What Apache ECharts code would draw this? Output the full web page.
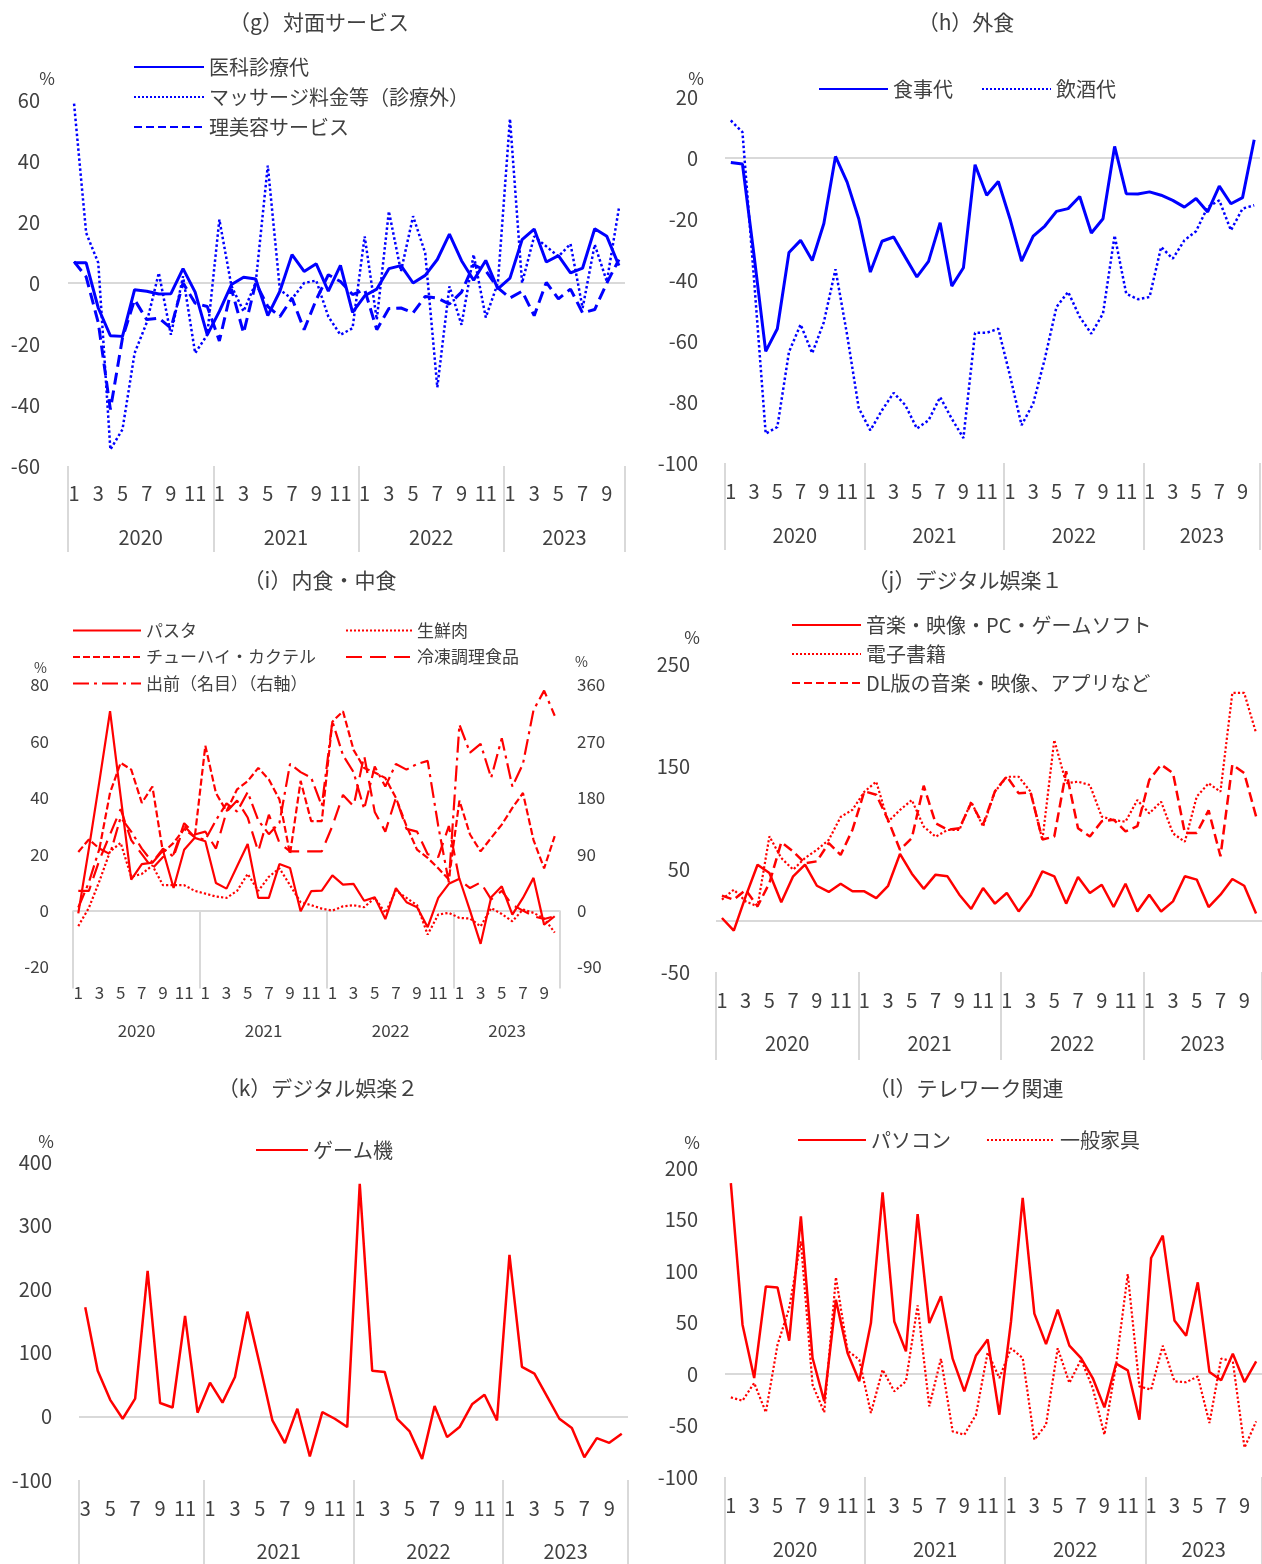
<!DOCTYPE html>
<html>
<head>
<meta charset="utf-8">
<script src="https://cdn.jsdelivr.net/npm/echarts@6/dist/echarts.min.js"></script>
<style>
  html, body { margin: 0; padding: 0; background: #fff; }
  #chart { width: 1262px; height: 1564px; }
</style>
</head>
<body>
<div id="chart"></div>
<script>
// ---- categories / tick labels ----
const monthsFromJan = [
  '1','2','3','4','5','6','7','8','9','10','11','12',
  '1','2','3','4','5','6','7','8','9','10','11','12',
  '1','2','3','4','5','6','7','8','9','10','11','12',
  '1','2','3','4','5','6','7','8','9','10'
];
const monthsFromMar = [
  '3','4','5','6','7','8','9','10','11','12',
  '1','2','3','4','5','6','7','8','9','10','11','12',
  '1','2','3','4','5','6','7','8','9','10','11','12',
  '1','2','3','4','5','6','7','8','9','10'
];
const yearsAll = ['2020', '2021', '2022', '2023'];
const yearsNo2020 = ['', '2021', '2022', '2023'];
const spansFromJan = [12, 12, 12, 10];
const spansFromMar = [10, 12, 12, 10];

// ---- (g) 対面サービス ----
const medical = [6.6, 6.6, -8.2, -17.3, -17.5, -2.2, -2.7, -3.6, -3.5, 4.7, -3, -17, -9.3, -0.5, 1.9, 1.3, -10.7, -2.7, 9.3, 3.8, 6.3, -2.7, 5.8, -9.6, -4.2, -2, 4.7, 5.7, 0, 2.5, 7.7, 16, 7.3, 0.9, 7.4, -1.9, 1.6, 14.2, 17.7, 6.9, 9, 3.3, 4.9, 17.8, 15.3, 5.7];
const massage = [58.8, 16.4, 6.6, -54.6, -48, -23, -13, 3.3, -17, 2.2, -23, -17, 20.8, -1, -9.3, 0, 38.5, -2.2, -5.2, 0, 0.8, -11, -17, -14.8, 15.3, -12, 23.5, 3.8, 21.9, 9.8, -34.2, -1.1, -13.7, 9.3, -11.3, 0, 53.8, 0, 15.3, 12, 8.7, 12.8, -8.2, 12.6, 0.5, 24.6];
const barber = [7, 2, -13, -41.5, -18, -5.5, -12, -11.5, -14.8, 0, -6.6, -7.7, -19, -2, -16.4, 0, -7.7, -11, -5, -15.3, -5.5, 2.7, 0.5, -3.8, -2.2, -15.3, -8.4, -8.2, -9.8, -4.4, -4.9, -6.9, -3, 6, 4, -1.6, -4.9, -2.7, -10.7, 0.2, -5.2, -2, -9.8, -8.7, 0, 7.7];

// ---- (h) 外食 ----
const meals = [-1.5, -2, -32, -63.4, -56, -31, -27, -33.6, -21.5, 0.5, -7.9, -19.9, -37.4, -27.3, -25.9, -32.5, -39, -33.9, -21.2, -42, -36, -2.2, -12.2, -7.7, -19.9, -33.8, -25.6, -22.3, -17.5, -16.6, -12.6, -24.6, -19.9, 3.8, -11.7, -11.8, -11.1, -12.2, -13.9, -16.1, -13.3, -17.7, -9.2, -15, -13, 6];
const drinking = [12.3, 8.5, -40, -90.4, -88.2, -63.6, -54.6, -64, -53.8, -36.5, -58, -82, -89.3, -82.7, -77, -81, -88.7, -86, -78.4, -85.5, -91.8, -57.3, -57.3, -56, -71.3, -87.6, -80.5, -65.8, -48.9, -43.9, -52.1, -57.6, -51, -25.4, -44.5, -46.3, -45.6, -29.2, -33, -27, -24, -16.1, -13.9, -23.7, -16.6, -15.5];

// ---- (i) 内食・中食 ----
const pasta = [-1, 22, 46, 70.7, 40.5, 11, 16.5, 17, 21.3, 8, 21.6, 25.8, 24.6, 9.8, 7.8, 15.7, 23.6, 4.5, 4.5, 16.5, 15.1, -0.2, 6.9, 7.1, 12.5, 9.2, 9.5, 3.5, 4.7, -3, 8, 3, 1.2, -5.9, 4.5, 9.5, 11.3, 0, -11.8, 4.7, 8.6, -1.4, 4.5, 11.6, -5, -2];
const freshMeat = [-5.5, 1, 10.5, 21, 24, 12, 13, 16, 9, 9, 9, 7, 6, 5, 4.5, 7, 13, 7, 12, 15, 9, 3, 1.9, 0.7, 0, 1.5, 1.9, 1.2, 4.5, -0.8, 7.1, 4.5, 1.9, -8.5, -1.4, -0.8, -2.6, -2.8, -5.6, 0.9, -1.2, -3.8, 0.4, -0.8, -2.8, -7.8];
const chuhai = [20.8, 25.2, 22, 41.8, 52.4, 50, 38.2, 44, 20.6, 24, 29, 26, 58.5, 41.7, 35.2, 43, 45.9, 50.6, 46.5, 39.4, 20, 46, 31.7, 31.7, 67, 70.7, 57, 50.6, 49, 47, 40, 30, 21.6, 18.7, 15, 11, 39, 27, 21, 25.8, 30.5, 36.4, 41.7, 25, 15, 26.4];
const frozen = [7, 7, 18, 27, 36, 25, 20, 15, 19, 20, 31, 27, 28, 22, 35, 39, 33, 21, 34, 24, 21, 21, 21, 21, 30, 41, 37, 55, 35, 28, 40, 29, 28, 20, 19, 30, 11, 8, 10, 4, 7, 2, 0, -2, -3, -2];
const delivery = [5, 45, 99, 90, 149, 126, 99, 77, 99, 86, 135, 117, 113, 144, 171, 158, 189, 144, 122, 140, 234, 221, 212, 167, 302, 248, 221, 162, 230, 198, 234, 225, 234, 239, 135, 45, 297, 252, 266, 212, 275, 198, 234, 320, 351, 311];

// ---- (j) デジタル娯楽１ ----
const softMedia = [2.6, -9.7, 23.7, 54.5, 46.4, 17.9, 43.2, 54.5, 34, 28, 36, 28.6, 28.6, 22, 34, 65, 45.8, 31, 44.8, 43.2, 25.3, 11.4, 31.8, 16.6, 27, 9, 24.4, 48, 43.2, 16.6, 42.5, 27, 35, 13.3, 36, 9, 25.3, 9, 18.8, 43.2, 40, 13.3, 25.3, 40.6, 34, 7];
const ebooks = [20.5, 30.2, 18.8, 13.9, 82.1, 61, 49.7, 61, 69, 78.6, 101, 108, 125.6, 135.4, 96.4, 107.8, 117.5, 91.6, 81.8, 88.3, 88.3, 115.9, 91.6, 125.6, 140.2, 140.2, 125.6, 78.6, 176, 133.8, 135.4, 132.1, 101.3, 98, 96.4, 117.5, 104.5, 115.9, 85, 76.9, 120.8, 133.8, 125.6, 221.8, 221.8, 182.8];
const downloads = [24.4, 20.5, 30, 14, 36.7, 76.3, 67.5, 56, 57.8, 75.6, 64, 88.6, 126, 122.7, 98, 69, 80.5, 131.5, 95, 88.6, 90, 114.6, 93.5, 126, 140.6, 124, 125, 79, 82, 145.5, 90, 82, 96.8, 98.4, 87, 92, 137, 152, 143.8, 85.4, 85.4, 107.5, 62.7, 152, 143.8, 101.6];

// ---- (k) デジタル娯楽２ (from 2020-03) ----
const consoles = [171.6, 71.6, 26, -3.7, 28, 229, 21, 14, 158, 5.8, 53, 21.6, 62, 164.7, 80.5, -6.3, -42, 12, -63, 6.8, -3.7, -16.8, 365.8, 71.6, 70, -3.7, -23.7, -66.8, 16.3, -32.6, -16.8, 19, 34, -6.3, 254, 78, 67.4, 32, -3.7, -18.4, -64.2, -34.2, -41.6, -27.4];

// ---- (l) テレワーク関連 ----
const pcs = [185.4, 47.9, -3.9, 85, 84, 32.4, 153, 15.5, -26.5, 72, 20.4, -7.1, 49.5, 176.4, 51, 22, 155.3, 49.5, 75.4, 14.9, -16.8, 18, 33.5, -39.5, 51, 171, 58.6, 29, 62.5, 27.5, 15.5, -3.9, -32.4, 10, 3.6, -44.3, 112.6, 134.3, 52, 37.2, 89, 1.9, -6.1, 19.7, -7.8, 12.3];
const furniture = [-22.7, -25.9, -8.7, -37.2, 28.5, 64, 128.8, -10.4, -37.2, 93.9, 22.7, 13.9, -37.9, 4.2, -16.8, -7.1, 66.7, -31.4, 14.9, -55.7, -58.9, -39.5, 21, -3.9, 25, 15.5, -63.8, -49.2, 25, -8.7, 14, -13.6, -58.9, 9, 97, -12, -15.2, 27.5, -7.1, -8, -2.3, -47.6, 14.9, 12.3, -71.5, -46];

const FONT = '"Noto Sans CJK JP", "Noto Sans", sans-serif';
const TXT = '#404040';
const LIGHT = '#d9d9d9';
const BLUE = '#0000ff';
const RED = '#ff0000';

const option = {
  animation: false,
  backgroundColor: '#ffffff',
  textStyle: { fontFamily: FONT },
  title: [], legend: [], grid: [], xAxis: [], yAxis: [], series: []
};

function addPanel(p) {
  const g = option.grid.length;
  const [left, top, width, height] = p.box;
  option.grid.push({ left, top, width, height });

  option.title.push({
    text: p.title, left: p.titleAt[0], top: p.titleAt[1], textAlign: 'center', padding: 0,
    textStyle: { fontSize: 21, fontWeight: 'normal', color: TXT, fontFamily: FONT }
  });

  // legend: line only, the symbol in the middle is hidden
  p.legends.forEach(l => option.legend.push({
    data: l.names, left: l.at[0], top: l.at[1], orient: l.orient || 'vertical',
    itemWidth: l.itemWidth, itemHeight: 12, itemGap: l.gap, padding: 0, selectedMode: false,
    itemStyle: { opacity: 0 },
    textStyle: { fontSize: p.fs, color: TXT, fontFamily: FONT }
  }));

  const monthAxis = option.xAxis.length;
  option.xAxis.push({
    gridIndex: g, type: 'category', data: p.months, boundaryGap: true,
    axisLine: { show: false }, axisTick: { show: false }, splitLine: { show: false },
    axisLabel: {
      interval: (i, v) => Number(v) % 2 === 1,
      margin: p.gaps[0], fontSize: p.fs, color: TXT, fontFamily: FONT
    }
  });

  // year band below the months: separators at year edges, labels in the middle
  const edges = [0], centers = [], yearAt = {};
  p.spans.forEach((c, k) => {
    const s = edges[edges.length - 1];
    centers.push(s + c / 2);
    yearAt[s + c / 2] = p.years[k];
    edges.push(s + c);
  });
  option.xAxis.push({
    gridIndex: g, type: 'value', position: 'bottom', min: 0, max: edges[edges.length - 1],
    axisLine: { show: false }, splitLine: { show: false },
    axisTick: { show: true, customValues: edges, length: p.tickLen, lineStyle: { color: LIGHT, width: 2 } },
    axisLabel: {
      customValues: centers, formatter: v => yearAt[v] || '',
      margin: p.gaps[1], fontSize: p.fs, color: TXT, fontFamily: FONT
    }
  });

  const yIdx = p.yAxes.map(a => {
    const right = a.pos === 'right';
    option.yAxis.push({
      gridIndex: g, type: 'value', position: a.pos || 'left',
      min: a.min, max: a.max, interval: a.step,
      axisLine: { show: false }, axisTick: { show: false }, splitLine: { show: false },
      axisLabel: { customValues: a.labels, margin: a.margin, fontSize: p.fs, color: TXT, fontFamily: FONT },
      name: '%', nameLocation: 'end', nameGap: a.nameGap,
      nameTextStyle: {
        fontSize: p.fs - 3, color: TXT, fontFamily: FONT,
        align: right ? 'left' : 'right',
        padding: right ? [0, 0, 0, a.namePad] : [0, a.namePad, 0, 0]
      }
    });
    return option.yAxis.length - 1;
  });

  p.series.forEach((s, k) => {
    const item = {
      name: s.name, type: 'line', xAxisIndex: monthAxis, yAxisIndex: yIdx[s.axis || 0],
      data: s.data, symbol: 'none', z: 2,
      lineStyle: { color: s.color, width: s.width, type: s.dash },
      itemStyle: { color: s.color }
    };
    if (k === 0) {
      item.markLine = {
        silent: true, symbol: 'none', z: 1, label: { show: false },
        lineStyle: { color: LIGHT, width: 2, type: 'solid' },
        data: [{ yAxis: 0 }]
      };
    }
    option.series.push(item);
  });
}

const LONG_DASH = [16, 8];
const DASH_DOT = [16, 5, 3, 5];
const SHORT_DASH = [7, 3];

addPanel({
  title: '（g）対面サービス', titleAt: [319, 12], fs: 20,
  box: [68, 100, 557, 366], months: monthsFromJan, spans: spansFromJan, years: yearsAll,
  gaps: [17, 61], tickLen: 86,
  yAxes: [{ min: -60, max: 60, step: 20, margin: 28, nameGap: 13, namePad: 13 }],
  legends: [{ names: ['医科診療代', 'マッサージ料金等（診療外）', '理美容サービス'], at: [133, 57], itemWidth: 70, gap: 10 }],
  series: [
    { name: '医科診療代', data: medical, color: BLUE, width: 3, dash: 'solid' },
    { name: 'マッサージ料金等（診療外）', data: massage, color: BLUE, width: 2.5, dash: 'dotted' },
    { name: '理美容サービス', data: barber, color: BLUE, width: 3, dash: 'dashed' }
  ]
});

addPanel({
  title: '（h）外食', titleAt: [966, 12], fs: 20,
  box: [725, 97, 535, 366], months: monthsFromJan, spans: spansFromJan, years: yearsAll,
  gaps: [18, 62], tickLen: 87,
  yAxes: [{ min: -100, max: 20, step: 20, margin: 27, nameGap: 10, namePad: 21 }],
  legends: [{ names: ['食事代', '飲酒代'], at: [818, 79], orient: 'horizontal', itemWidth: 69, gap: 28 }],
  series: [
    { name: '食事代', data: meals, color: BLUE, width: 3, dash: 'solid' },
    { name: '飲酒代', data: drinking, color: BLUE, width: 2.5, dash: 'dotted' }
  ]
});

addPanel({
  title: '（i）内食・中食', titleAt: [320, 570], fs: 17,
  box: [73, 685, 487, 282], months: monthsFromJan, spans: spansFromJan, years: yearsAll,
  gaps: [17, 55], tickLen: 78,
  yAxes: [
    { min: -20, max: 80, step: 20, margin: 24, nameGap: 10, namePad: 26 },
    { pos: 'right', min: -90, max: 360, step: 90, margin: 17, nameGap: 16, namePad: 15 }
  ],
  legends: [
    { names: ['パスタ', 'チューハイ・カクテル', '出前（名目）（右軸）'], at: [72, 622], itemWidth: 68, gap: 9.5 },
    { names: ['生鮮肉', '冷凍調理食品'], at: [345, 622], itemWidth: 66, gap: 9.5 }
  ],
  series: [
    { name: 'パスタ', data: pasta, color: RED, width: 2.2, dash: 'solid' },
    { name: '生鮮肉', data: freshMeat, color: RED, width: 2.2, dash: 'dotted' },
    { name: 'チューハイ・カクテル', data: chuhai, color: RED, width: 2.2, dash: SHORT_DASH },
    { name: '冷凍調理食品', data: frozen, color: RED, width: 2.2, dash: LONG_DASH },
    { name: '出前（名目）（右軸）', data: delivery, color: RED, width: 2.2, dash: DASH_DOT, axis: 1 }
  ]
});

addPanel({
  title: '（j）デジタル娯楽１', titleAt: [965, 570], fs: 20,
  box: [716, 664, 555, 308], months: monthsFromJan, spans: spansFromJan, years: yearsAll,
  gaps: [18, 61], tickLen: 88,
  yAxes: [{ min: -50, max: 250, labels: [-50, 50, 150, 250], margin: 26, nameGap: 18, namePad: 16 }],
  legends: [{ names: ['音楽・映像・PC・ゲームソフト', '電子書籍', 'DL版の音楽・映像、アプリなど'], at: [791, 615], itemWidth: 69, gap: 9 }],
  series: [
    { name: '音楽・映像・PC・ゲームソフト', data: softMedia, color: RED, width: 2.5, dash: 'solid' },
    { name: '電子書籍', data: ebooks, color: RED, width: 2.2, dash: 'dotted' },
    { name: 'DL版の音楽・映像、アプリなど', data: downloads, color: RED, width: 2.5, dash: 'dashed' }
  ]
});

addPanel({
  title: '（k）デジタル娯楽２', titleAt: [318, 1078], fs: 20,
  box: [79, 1162, 549, 318], months: monthsFromMar, spans: spansFromMar, years: yearsNo2020,
  gaps: [18, 61], tickLen: 84,
  yAxes: [{ min: -100, max: 400, step: 100, margin: 27, nameGap: 12, namePad: 25 }],
  legends: [{ names: ['ゲーム機'], at: [255, 1140], itemWidth: 52, gap: 10 }],
  series: [
    { name: 'ゲーム機', data: consoles, color: RED, width: 2.5, dash: 'solid' }
  ]
});

addPanel({
  title: '（l）テレワーク関連', titleAt: [966, 1078], fs: 20,
  box: [725, 1168, 541, 309], months: monthsFromJan, spans: spansFromJan, years: yearsAll,
  gaps: [18, 62], tickLen: 87,
  yAxes: [{ min: -100, max: 200, step: 50, margin: 27, nameGap: 17, namePad: 25 }],
  legends: [{ names: ['パソコン', '一般家具'], at: [797, 1130], orient: 'horizontal', itemWidth: 68, gap: 35 }],
  series: [
    { name: 'パソコン', data: pcs, color: RED, width: 2.5, dash: 'solid' },
    { name: '一般家具', data: furniture, color: RED, width: 2.2, dash: 'dotted' }
  ]
});

const chart = echarts.init(document.getElementById('chart'), null, { renderer: 'canvas' });
chart.setOption(option);
window.addEventListener('resize', () => chart.resize());
</script>
</body>
</html>
